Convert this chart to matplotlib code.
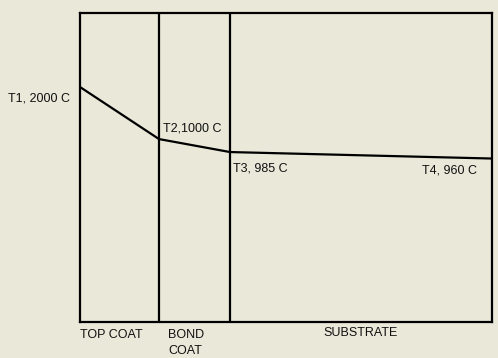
import numpy as np
import matplotlib
matplotlib.use("Agg")
import matplotlib.pyplot as plt

# Layers of the coated wall (schematic thickness units)
layer_names = ["TOP COAT", "BOND\nCOAT", "SUBSTRATE"]
layer_thickness = [0.79, 0.71, 2.62]

# Temperatures at the interfaces, from hot face to cold face
point_names = ["T1", "T2", "T3", "T4"]
temperatures = [2000, 1000, 985, 960]
temp_labels = ["T1, 2000 C", "T2,1000 C", "T3, 985 C", "T4, 960 C"]

# Schematic (non-proportional) temperature axis: anchor temperatures and
# the fraction of the frame height at which each one is drawn
scale_temps = [0, 960, 985, 1000, 2000, 3000]
scale_fracs = [0.0, 0.529, 0.550, 0.592, 0.7605, 1.0]


def to_frac(t):
    return np.interp(t, scale_temps, scale_fracs)


def from_frac(f):
    return np.interp(f, scale_fracs, scale_temps)


edges = np.concatenate([[0.0], np.cumsum(layer_thickness)])

bg = "#e9e8d9"
fig = plt.figure(figsize=(4.98, 3.58), dpi=100, facecolor=bg)
ax = fig.add_axes([80 / 498, 36 / 358, 412 / 498, 309 / 358])
ax.set_facecolor(bg)
ax.set_yscale("function", functions=(to_frac, from_frac))
ax.set_xlim(edges[0], edges[-1])
ax.set_ylim(scale_temps[0], scale_temps[-1])
ax.set_xticks([])
ax.set_yticks([])
ax.minorticks_off()
for s in ax.spines.values():
    s.set_linewidth(1.6)
    s.set_color("black")

# Interfaces between layers
for x in edges[1:-1]:
    ax.axvline(x, color="black", lw=1.6)

# Temperature profile through the wall
ax.plot(edges, temperatures, color="black", lw=1.6, solid_capstyle="butt")

font = dict(family=["Liberation Sans", "DejaVu Sans"], fontsize=9, color="#111111")

label_offsets = [(-10, -11), (4, 11), (3, -16), (-15, -12)]
label_align = ["right", "left", "left", "right"]
for x, t, lab, off, ha in zip(edges, temperatures, temp_labels, label_offsets, label_align):
    ax.annotate(lab, xy=(x, t), xytext=off, textcoords="offset pixels",
                ha=ha, va="center", **font)

# Layer names under the frame
trans = ax.get_xaxis_transform()
name_specs = [
    (edges[0], 0, -7, "left"),
    (edges[1], 9, -7, "left"),
    (0.5 * (edges[2] + edges[3]), 0, -5, "center"),
]
for name, (x, dx, dy, ha) in zip(layer_names, name_specs):
    ax.annotate(name, xy=(x, 0), xycoords=trans, xytext=(dx, dy),
                textcoords="offset pixels", ha=ha, va="top",
                multialignment="left", linespacing=1.45, **font)

fig.savefig("out.png", dpi=100, facecolor=bg)
